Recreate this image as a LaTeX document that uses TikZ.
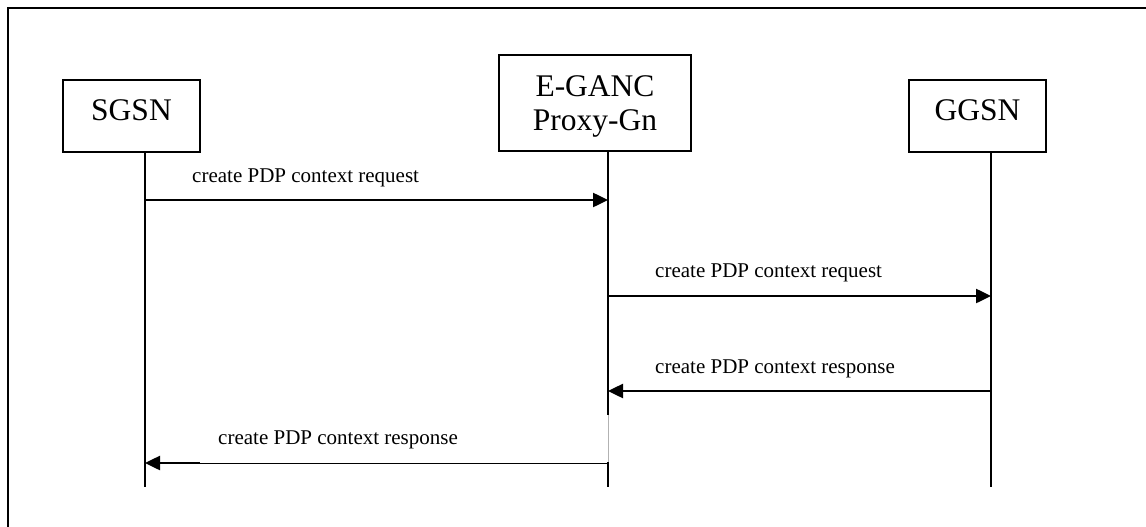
\documentclass[tikz,border=0pt]{standalone}
\usepackage{fontspec}
\setmainfont{Liberation Serif}
\usetikzlibrary{arrows.meta}
\begin{document}
\begin{tikzpicture}[x=1pt,y=-1pt,
  entity/.style={draw=black,line width=2pt,rectangle,inner sep=0pt,
    font=\fontsize{31.5}{34}\selectfont,align=center},
  life/.style={line width=2pt},
  msg/.style={line width=2.5pt,-{Triangle[length=15pt,width=14pt]}},
  lbl/.style={font=\fontsize{21}{24}\selectfont,anchor=base west,inner sep=0pt}]
\useasboundingbox (0,0) rectangle (1146,527);
% frame (top and left only)
\draw[line width=2pt] (1146,8) -- (8,8) -- (8,527);
% entities
\node[entity,minimum width=137pt,minimum height=72pt,text height=21pt,text depth=13pt] (sgsn) at (131.5,116) {SGSN};
\node[entity,minimum width=192pt,minimum height=96pt,text depth=0pt] (eganc) at (595,103) {E-GANC\\Proxy-Gn};
\node[entity,minimum width=137pt,minimum height=72pt,text height=21pt,text depth=13pt] (ggsn) at (977.5,116) {GGSN};
% lifeline coordinates
\coordinate (sTop) at (145,152);
\coordinate (sBot) at (145,487);
\coordinate (eTop) at (608,151);
\coordinate (eG1) at (608,415);
\coordinate (eG2) at (608,462);
\coordinate (eBot) at (608,487);
\coordinate (gTop) at (991,152);
\coordinate (gBot) at (991,487);
\draw[life] (sTop) -- (sBot);
\draw[life] (eTop) -- (eG1);
\draw[line width=1pt,black!30] (eG1) -- (eG2);
\draw[life] (eG2) -- (eBot);
\draw[life] (gTop) -- (gBot);
% message coordinates
\coordinate (m1a) at (145,200); \coordinate (m1b) at (608,200);
\coordinate (m2a) at (608,296); \coordinate (m2b) at (991,296);
\coordinate (m3a) at (991,391); \coordinate (m3b) at (608,391);
\coordinate (m4a) at (608,463); \coordinate (m4k) at (200,463); \coordinate (m4b) at (145,463);
\draw[msg] (m1a) -- (m1b);
\draw[msg] (m2a) -- (m2b);
\draw[msg] (m3a) -- (m3b);
\draw[line width=1pt] (m4a) -- (m4k);
\draw[msg] (m4k) -- (m4b);
% labels
\node[lbl] (l1) at (192,182) {create PDP context request};
\node[lbl] (l2) at (655,277) {create PDP context request};
\node[lbl] (l3) at (655,373) {create PDP context response};
\node[lbl] (l4) at (218,444) {create PDP context response};
\end{tikzpicture}
\end{document}
